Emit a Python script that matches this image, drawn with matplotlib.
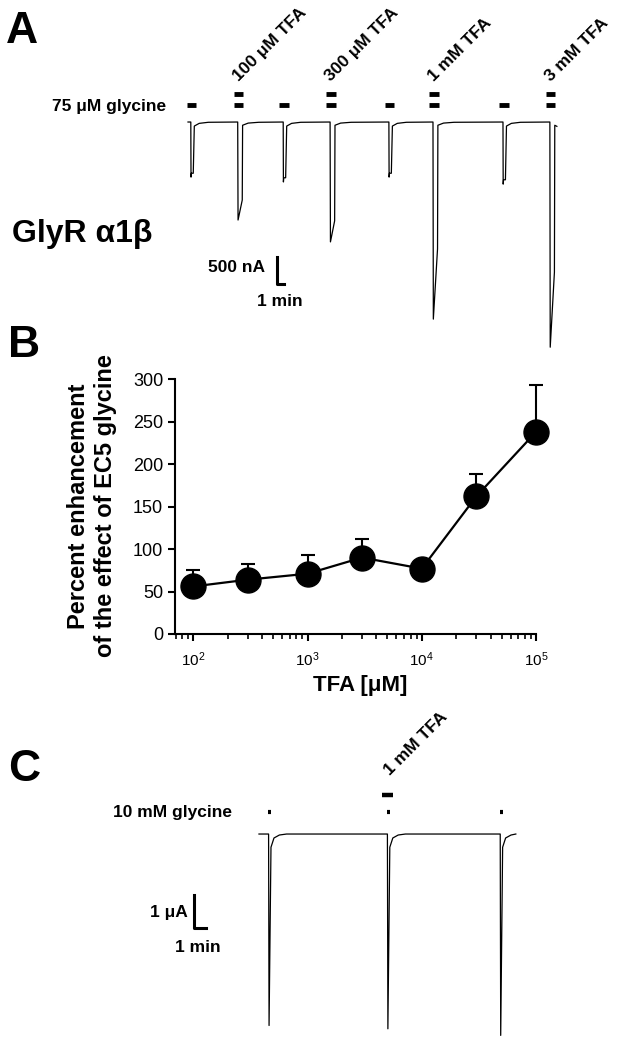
import matplotlib.pyplot as plt
import matplotlib.transforms as mtransforms
from matplotlib.ticker import LogLocator, NullFormatter

plt.rcParams['font.family'] = ['Liberation Sans', 'DejaVu Sans']
plt.rcParams['mathtext.default'] = 'regular'

# panel A: 75 uM glycine responses (onset in min, peak and shoulder in nA)
a_onset = [0.4, 7.1, 13.6, 20.3, 28.7, 35.0, 45.0, 51.7]
a_peak = [1020, 1815, 1110, 2220, 1020, 3650, 1150, 4170]
a_shoulder = [0, 1445, 0, 1830, 0, 2350, 0, 2780]
a_tfa = ['', '100 μM TFA', '', '300 μM TFA', '', '1 mM TFA', '', '3 mM TFA']
a_end = 52.7

# panel B: concentration response
b_conc = [100, 300, 1000, 3000, 10000, 30000, 100000]
b_mean = [56, 64, 71, 90, 77, 162, 238]
b_sem = [19, 19, 22, 22, 6, 27, 55]

# panel C: 10 mM glycine responses (min, uA)
c_onset = [0.8, 10.7, 20.1]
c_peak = [5.8, 5.9, 6.1]
c_tfa = ['', '1 mM TFA', '']
c_end = 21.4

W, H = 619, 1042
fig = plt.figure(figsize=(W / 100, H / 100), dpi=100)


def px_axes(l, t, r, b):
    return fig.add_axes([l / W, 1 - b / H, (r - l) / W, (b - t) / H])


def px_text(x, y, s, **kw):
    return fig.text(x / W, 1 - y / H, s, **kw)


# ---------------- A ----------------
axA = px_axes(150, 55, 575, 360)
axA.set_xlim(-5.43, 55.29)
axA.set_ylim(-4407, 1241)
axA.axis('off')

tA, yA = [0.0], [0.0]
for on, pk, sh in zip(a_onset, a_peak, a_shoulder):
    if sh:
        seg = [(on, 0), (on + 0.05, -pk), (on + 0.65, -sh), (on + 0.7, -60),
               (on + 1.5, -20), (on + 3.0, -5)]
    else:
        seg = [(on, 0), (on + 0.03, -pk), (on + 0.08, -0.93 * pk), (on + 0.35, -0.93 * pk),
               (on + 0.5, -75), (on + 1.2, -25), (on + 2.5, -5)]
    for t, y in seg:
        if t <= a_end:
            tA.append(t)
            yA.append(y)
tA.append(a_end)
yA.append(-80)
axA.plot(tA, yA, color='k', lw=0.9)

transA = mtransforms.blended_transform_factory(axA.transData, axA.transAxes)
for on, lab in zip(a_onset, a_tfa):
    axA.plot([on - 0.6, on + 0.8], [0.836, 0.836], transform=transA, color='k',
             lw=3.5, solid_capstyle='butt', clip_on=False)
    if lab:
        axA.plot([on - 0.6, on + 0.8], [0.872, 0.872], transform=transA, color='k',
                 lw=3.5, solid_capstyle='butt', clip_on=False)
        axA.annotate(lab, xy=(on, 0.872), xycoords=transA, xytext=(0.5, 9),
                     textcoords='offset points', rotation=45, rotation_mode='anchor',
                     ha='left', va='baseline', fontsize=12.5, fontweight='bold')

# scale bar 500 nA / 1 min
axA.plot([12.71, 12.71, 13.71], [-2500, -3000, -3000], color='k', lw=2.2)

px_text(6, 43, 'A', fontsize=32, fontweight='bold', va='baseline')
px_text(166, 106, '75 μM glycine', fontsize=12.5, fontweight='bold', ha='right', va='center')
px_text(12, 242, 'GlyR α1β', fontsize=23, fontweight='bold', va='baseline')
px_text(265, 268, '500 nA', fontsize=12.5, fontweight='bold', ha='right', va='center')
px_text(280, 302, '1 min', fontsize=12.5, fontweight='bold', ha='center', va='center')

# ---------------- B ----------------
axB = px_axes(175, 379.3, 536, 634)
axB.plot(b_conc, b_mean, color='k', lw=1.6, zorder=2, clip_on=False)
eb = axB.errorbar(b_conc, b_mean, yerr=[[0] * len(b_sem), b_sem], fmt='none', ecolor='k',
                  elinewidth=1.5, capsize=5, capthick=1.5, zorder=1)
for art in eb.get_children():
    art.set_clip_on(False)
axB.plot(b_conc, b_mean, 'o', color='k', ms=18, zorder=3, clip_on=False)
axB.set_xscale('log')
axB.set_xlim(10 ** 1.84, 1e5)
axB.set_ylim(0, 300)
axB.set_yticks([0, 50, 100, 150, 200, 250, 300])
axB.xaxis.set_minor_locator(LogLocator(base=10, subs=range(2, 10), numticks=20))
axB.xaxis.set_minor_formatter(NullFormatter())
for side in ['top', 'right']:
    axB.spines[side].set_visible(False)
for side in ['left', 'bottom']:
    axB.spines[side].set_linewidth(1.5)
axB.tick_params(axis='y', direction='out', length=5, width=1.5, labelsize=13)
axB.tick_params(axis='x', which='major', direction='out', length=5, width=1.5,
                labelsize=11, pad=7)
axB.tick_params(axis='x', which='minor', direction='out', length=3.5, width=1.2)

px_text(8, 357, 'B', fontsize=32, fontweight='bold', va='baseline')
px_text(92, 506, 'Percent enhancement\nof the effect of EC5 glycine', fontsize=17,
        fontweight='bold', rotation=90, ha='center', va='center', multialignment='center',
        linespacing=1.25)
px_text(360, 686, 'TFA [μM]', fontsize=16, fontweight='bold', ha='center', va='center')

# ---------------- C ----------------
axC = px_axes(150, 700, 575, 1042)
axC.set_xlim(-9.08, 26.33)
axC.set_ylim(-6.30, 4.06)
axC.axis('off')

tC, yC = [0.0], [0.0]
for on, pk in zip(c_onset, c_peak):
    seg = [(on, 0), (on + 0.04, -pk), (on + 0.2, -0.4), (on + 0.45, -0.12),
           (on + 0.9, -0.03), (on + 1.5, 0)]
    for t, y in seg:
        if t <= c_end:
            tC.append(t)
            yC.append(y)
tC.append(c_end)
yC.append(0)
axC.plot(tC, yC, color='k', lw=0.9)

transC = mtransforms.blended_transform_factory(axC.transData, axC.transAxes)
for on, lab in zip(c_onset, c_tfa):
    axC.plot([on - 0.05, on + 0.2], [0.6725, 0.6725], transform=transC, color='k',
             lw=3, solid_capstyle='butt', clip_on=False)
    if lab:
        axC.plot([on - 0.45, on + 0.45], [0.722, 0.722], transform=transC, color='k',
                 lw=3.2, solid_capstyle='butt', clip_on=False)
        axC.annotate(lab, xy=(on, 0.722), xycoords=transC, xytext=(2, 14),
                     textcoords='offset points', rotation=45, rotation_mode='anchor',
                     ha='left', va='baseline', fontsize=12.5, fontweight='bold')

# scale bar 1 uA / 1 min
axC.plot([-5.42, -5.42, -4.42], [-1.85, -2.85, -2.85], color='k', lw=2.2)

px_text(8, 781, 'C', fontsize=32, fontweight='bold', va='baseline')
px_text(232, 812, '10 mM glycine', fontsize=12.5, fontweight='bold', ha='right', va='center')
px_text(188, 913, '1 μA', fontsize=12.5, fontweight='bold', ha='right', va='center')
px_text(198, 948, '1 min', fontsize=12.5, fontweight='bold', ha='center', va='center')

fig.savefig('out.png', dpi=100)
